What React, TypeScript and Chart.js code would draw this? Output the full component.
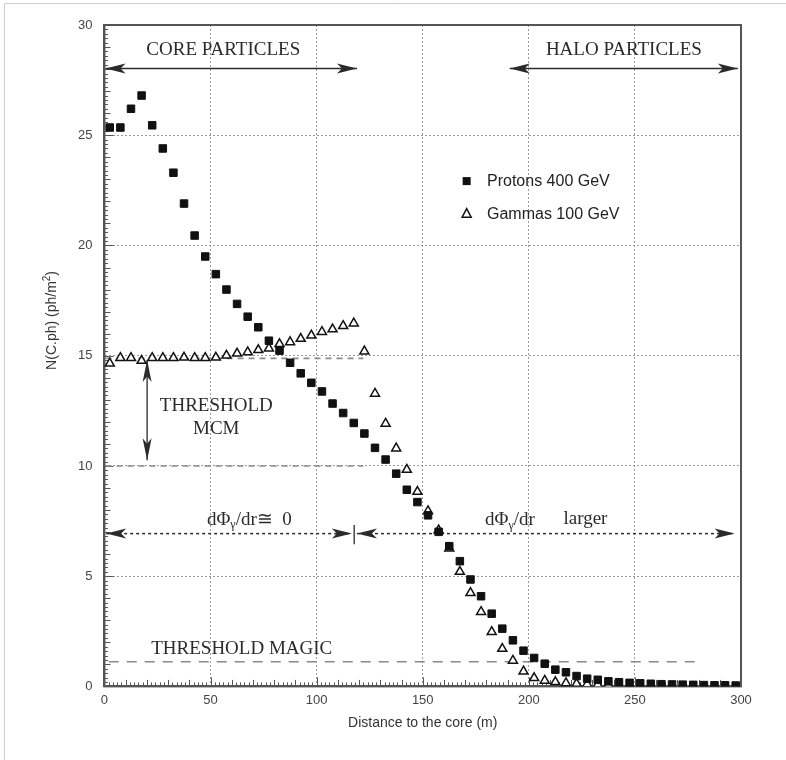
import React, { useEffect, useRef } from 'react';
import { Chart, registerables } from 'chart.js';

Chart.register(...registerables);

// ---------- DATA ----------
const protonDistances = [
  2.5, 7.5, 12.5, 17.5, 22.5, 27.5, 32.5, 37.5, 42.5, 47.5,
  52.5, 57.5, 62.5, 67.5, 72.5, 77.5, 82.5, 87.5, 92.5, 97.5,
  102.5, 107.5, 112.5, 117.5, 122.5, 127.5, 132.5, 137.5, 142.5, 147.5,
  152.5, 157.5, 162.5, 167.5, 172.5, 177.5, 182.5, 187.5, 192.5, 197.5,
  202.5, 207.5, 212.5, 217.5, 222.5, 227.5, 232.5, 237.5, 242.5, 247.5,
  252.5, 257.5, 262.5, 267.5, 272.5, 277.5, 282.5, 287.5, 292.5, 297.5,
];
const protonValues = [
  25.35, 25.35, 26.2, 26.8, 25.45, 24.4, 23.3, 21.9, 20.45, 19.5,
  18.7, 18.0, 17.35, 16.77, 16.29, 15.68, 15.23, 14.68, 14.2, 13.77,
  13.38, 12.83, 12.4, 11.95, 11.47, 10.82, 10.29, 9.65, 8.92, 8.36,
  7.76, 7.01, 6.36, 5.68, 4.85, 4.09, 3.3, 2.62, 2.09, 1.62,
  1.29, 1.03, 0.76, 0.64, 0.47, 0.35, 0.3, 0.23, 0.19, 0.16,
  0.14, 0.12, 0.1, 0.09, 0.08, 0.07, 0.06, 0.05, 0.05, 0.04,
];
const gammaDistances = [
  2.5, 7.5, 12.5, 17.5, 22.5, 27.5, 32.5, 37.5, 42.5, 47.5,
  52.5, 57.5, 62.5, 67.5, 72.5, 77.5, 82.5, 87.5, 92.5, 97.5,
  102.5, 107.5, 112.5, 117.5, 122.5, 127.5, 132.5, 137.5, 142.5, 147.5,
  152.5, 157.5, 162.5, 167.5, 172.5, 177.5, 182.5, 187.5, 192.5, 197.5,
  202.5, 207.5, 212.5, 217.5, 222.5, 227.5, 232.5, 237.5,
];
const gammaValues = [
  14.65, 14.9, 14.9, 14.77, 14.9, 14.9, 14.9, 14.92, 14.9, 14.9,
  14.92, 15.01, 15.1, 15.16, 15.26, 15.33, 15.53, 15.62, 15.77, 15.92,
  16.08, 16.2, 16.35, 16.47, 15.2, 13.28, 11.92, 10.8, 9.83, 8.83,
  7.95, 7.08, 6.26, 5.2, 4.24, 3.38, 2.47, 1.71, 1.17, 0.68,
  0.38, 0.26, 0.2, 0.15, 0.12, 0.1, 0.08, 0.06,
];
const xTickValues = [0, 50, 100, 150, 200, 250, 300];
const yTickValues = [0, 5, 10, 15, 20, 25, 30];
const seriesNames = ['Protons 400 GeV', 'Gammas 100 GeV'];
const thresholdMCM = [14.88, 10.0];
const thresholdMAGIC = 1.12;

const SERIF = '"Liberation Serif", "DejaVu Serif", serif';
const SANS = '"Liberation Sans", Arial, sans-serif';
const INK = '#2b2b2b';

function arrowHead(ctx: CanvasRenderingContext2D, tx: number, ty: number, fx: number, fy: number, len: number, half: number) {
  const a = Math.atan2(ty - fy, tx - fx);
  const bx = tx - Math.cos(a) * len;
  const by = ty - Math.sin(a) * len;
  const px = -Math.sin(a) * half;
  const py = Math.cos(a) * half;
  ctx.beginPath();
  ctx.moveTo(tx, ty);
  ctx.lineTo(bx + px, by + py);
  ctx.lineTo(bx + (tx - bx) * 0.25, by + (ty - by) * 0.25);
  ctx.lineTo(bx - px, by - py);
  ctx.closePath();
  ctx.fill();
}

function doubleArrow(ctx: CanvasRenderingContext2D, x1: number, y1: number, x2: number, y2: number, len: number, half: number, dash: number[], width: number) {
  ctx.save();
  ctx.strokeStyle = INK;
  ctx.fillStyle = INK;
  ctx.lineWidth = width;
  ctx.setLineDash(dash);
  ctx.beginPath();
  ctx.moveTo(x1, y1);
  ctx.lineTo(x2, y2);
  ctx.stroke();
  ctx.setLineDash([]);
  arrowHead(ctx, x1, y1, x2, y2, len, half);
  arrowHead(ctx, x2, y2, x1, y1, len, half);
  ctx.restore();
}

function serifText(ctx: CanvasRenderingContext2D, text: string, cx: number, cy: number, size: number) {
  ctx.save();
  ctx.font = `${size}px ${SERIF}`;
  ctx.fillStyle = INK;
  ctx.textAlign = 'center';
  ctx.textBaseline = 'middle';
  ctx.fillText(text, cx, cy);
  ctx.restore();
}

// draws "dΦγ/dr" + suffix, centered at cx
function dPhiText(ctx: CanvasRenderingContext2D, suffix: string, cx: number, cy: number, size: number) {
  ctx.save();
  ctx.fillStyle = INK;
  ctx.textBaseline = 'alphabetic';
  ctx.textAlign = 'left';
  const big = `${size}px ${SERIF}`;
  const small = `${Math.round(size * 0.65)}px ${SERIF}`;
  ctx.font = big;
  const w1 = ctx.measureText('dΦ').width;
  const w3 = ctx.measureText('/dr' + suffix).width;
  ctx.font = small;
  const w2 = ctx.measureText('γ').width;
  const total = w1 + w2 + w3;
  let x = cx - total / 2;
  const base = cy + size * 0.33;
  ctx.font = big;
  ctx.fillText('dΦ', x, base);
  x += w1;
  ctx.font = small;
  ctx.fillText('γ', x, base + size * 0.18);
  x += w2;
  ctx.font = big;
  ctx.fillText('/dr' + suffix, x, base);
  ctx.restore();
}

const overlayPlugin = {
  id: 'overlay',
  beforeDraw(chart: any) {
    const ctx = chart.ctx as CanvasRenderingContext2D;
    ctx.save();
    ctx.strokeStyle = '#cfcfcf';
    ctx.lineWidth = 1;
    ctx.beginPath();
    ctx.moveTo(4.5, 760);
    ctx.lineTo(4.5, 3.5);
    ctx.lineTo(786, 3.5);
    ctx.stroke();
    ctx.restore();
  },
  beforeDatasetsDraw(chart: any) {
    const ctx = chart.ctx as CanvasRenderingContext2D;
    const xs = chart.scales.x;
    const ys = chart.scales.y;
    const X = (v: number) => xs.getPixelForValue(v);
    const Y = (v: number) => ys.getPixelForValue(v);
    const area = chart.chartArea;

    // minor ticks
    ctx.save();
    ctx.strokeStyle = '#555';
    ctx.lineWidth = 1;
    ctx.beginPath();
    for (let i = 0; i <= 150; i++) {
      const v = i * 2;
      const len = v % 50 === 0 ? 9 : v % 10 === 0 ? 6.5 : 4;
      const px = Math.round(X(v)) + 0.5;
      ctx.moveTo(px, area.bottom);
      ctx.lineTo(px, area.bottom - len);
    }
    for (let i = 0; i <= 150; i++) {
      const v = i * 0.2;
      const len = i % 25 === 0 ? 9 : i % 5 === 0 ? 6 : 3.5;
      const py = Math.round(Y(v)) + 0.5;
      ctx.moveTo(area.left, py);
      ctx.lineTo(area.left + len, py);
    }
    ctx.stroke();
    ctx.restore();

    // frame
    ctx.save();
    ctx.strokeStyle = '#555';
    ctx.lineWidth = 2;
    ctx.strokeRect(area.left, area.top, area.right - area.left, area.bottom - area.top);
    ctx.restore();

    // threshold dashed lines
    ctx.save();
    ctx.strokeStyle = '#8a8a8a';
    ctx.lineWidth = 1.6;
    ctx.setLineDash([6, 5]);
    ctx.beginPath();
    for (const t of thresholdMCM) {
      ctx.moveTo(X(0.5), Y(t));
      ctx.lineTo(X(122), Y(t));
    }
    ctx.stroke();
    ctx.setLineDash([10, 8]);
    ctx.beginPath();
    ctx.moveTo(X(2), Y(thresholdMAGIC));
    ctx.lineTo(X(280), Y(thresholdMAGIC));
    ctx.stroke();
    ctx.restore();

    // top arrows and labels
    serifText(ctx, 'CORE PARTICLES', X(56), Y(28.86), 19);
    serifText(ctx, 'HALO PARTICLES', X(244.8), Y(28.86), 19);
    doubleArrow(ctx, X(0.5), Y(28.03), X(119), Y(28.03), 20, 5, [], 1.5);
    doubleArrow(ctx, X(191), Y(28.03), X(298.5), Y(28.03), 20, 5, [], 1.5);

    // threshold MCM
    doubleArrow(ctx, X(20.1), Y(14.8), X(20.1), Y(10.26), 22, 4.5, [], 1.3);
    serifText(ctx, 'THRESHOLD', X(52.7), Y(12.73), 19);
    serifText(ctx, 'MCM', X(52.7), Y(11.67), 19);

    // dPhi arrows
    doubleArrow(ctx, X(0.8), Y(6.93), X(116.6), Y(6.93), 20, 5, [3, 3], 1.5);
    doubleArrow(ctx, X(119), Y(6.93), X(297), Y(6.93), 20, 5, [3, 3], 1.5);
    ctx.save();
    ctx.strokeStyle = INK;
    ctx.lineWidth = 1.3;
    ctx.beginPath();
    ctx.moveTo(X(117.7), Y(7.32));
    ctx.lineTo(X(117.7), Y(6.45));
    ctx.stroke();
    ctx.restore();
    dPhiText(ctx, '≅  0', X(68.3), Y(7.62), 19);
    dPhiText(ctx, '', X(191.1), Y(7.6), 19);
    serifText(ctx, 'larger', X(226.7), Y(7.6), 19);

    // threshold magic
    serifText(ctx, 'THRESHOLD MAGIC', X(64.7), Y(1.68), 19);

    // legend
    ctx.save();
    ctx.fillStyle = '#111';
    const sx = X(170.7), sy = Y(22.92);
    ctx.fillRect(sx - 4, sy - 4, 8, 8);
    const tx = X(170.7), ty = Y(21.44);
    ctx.strokeStyle = '#111';
    ctx.lineWidth = 1.5;
    ctx.beginPath();
    ctx.moveTo(tx, ty - 5);
    ctx.lineTo(tx + 4.5, ty + 3.5);
    ctx.lineTo(tx - 4.5, ty + 3.5);
    ctx.closePath();
    ctx.stroke();
    ctx.font = `16px ${SANS}`;
    ctx.fillStyle = '#222';
    ctx.textBaseline = 'middle';
    ctx.textAlign = 'left';
    ctx.fillText(seriesNames[0], X(180.3), sy + 1);
    ctx.fillText(seriesNames[1], X(180.3), ty + 1);
    ctx.restore();

    // axis titles
    ctx.save();
    ctx.fillStyle = '#333';
    ctx.font = `14px ${SANS}`;
    ctx.textAlign = 'center';
    ctx.textBaseline = 'middle';
    ctx.fillText('Distance to the core (m)', X(150), area.bottom + 37);
    ctx.translate(area.left - 52, Y(16.6));
    ctx.rotate(-Math.PI / 2);
    const main = 'N(C.ph) (ph/m';
    const tail = ')';
    const wMain = ctx.measureText(main).width;
    const wTail = ctx.measureText(tail).width;
    ctx.font = `10px ${SANS}`;
    const wSup = ctx.measureText('2').width;
    const total = wMain + wSup + wTail;
    let x = -total / 2;
    ctx.textAlign = 'left';
    ctx.font = `14px ${SANS}`;
    ctx.fillText(main, x, 0);
    x += wMain;
    ctx.font = `10px ${SANS}`;
    ctx.fillText('2', x, -5);
    x += wSup;
    ctx.font = `14px ${SANS}`;
    ctx.fillText(tail, x, 0);
    ctx.restore();
  },
};

export default function App() {
  const ref = useRef<HTMLCanvasElement | null>(null);
  useEffect(() => {
    if (!ref.current) return;
    const chart = new Chart(ref.current, {
      type: 'scatter',
      data: {
        datasets: [
          {
            label: seriesNames[0],
            data: protonDistances.map((x, i) => ({ x, y: protonValues[i] })),
            pointStyle: 'rect',
            pointRadius: 5.3,
            backgroundColor: '#111',
            borderColor: '#111',
            borderWidth: 1,
            showLine: false,
            order: 0,
          },
          {
            label: seriesNames[1],
            data: gammaDistances.map((x, i) => ({ x, y: gammaValues[i] })),
            pointStyle: 'triangle',
            pointRadius: 5.2,
            backgroundColor: '#fff',
            borderColor: '#111',
            borderWidth: 1.5,
            showLine: false,
            order: 1,
          },
        ],
      },
      options: {
        responsive: false,
        animation: false,
        devicePixelRatio: 1,
        layout: { padding: { left: 66, top: 25, right: 45, bottom: 46 } },
        plugins: { legend: { display: false }, tooltip: { enabled: false } },
        scales: {
          x: {
            type: 'linear',
            min: 0,
            max: 300,
            afterBuildTicks: (s: any) => { s.ticks = xTickValues.map((v) => ({ value: v })); },
            ticks: { color: '#444', font: { family: SANS, size: 13 }, padding: 6, maxRotation: 0 },
            grid: { color: '#9a9a9a', lineWidth: 1, drawTicks: false },
            border: { display: true, color: '#555', width: 2, dash: [2, 2] },
          },
          y: {
            type: 'linear',
            min: 0,
            max: 30,
            afterBuildTicks: (s: any) => { s.ticks = yTickValues.map((v) => ({ value: v })); },
            ticks: { color: '#444', font: { family: SANS, size: 13 }, padding: 12 },
            grid: { color: '#9a9a9a', lineWidth: 1, drawTicks: false },
            border: { display: true, color: '#555', width: 2, dash: [2, 2] },
          },
        },
      },
      plugins: [overlayPlugin],
    } as any);
    return () => chart.destroy();
  }, []);
  return (
    <div style={{ position: 'fixed', left: 0, top: 0, width: 786, height: 760, background: '#fff' }}>
      <canvas ref={ref} width={786} height={760} style={{ display: 'block', width: 786, height: 760 }} />
    </div>
  );
}
